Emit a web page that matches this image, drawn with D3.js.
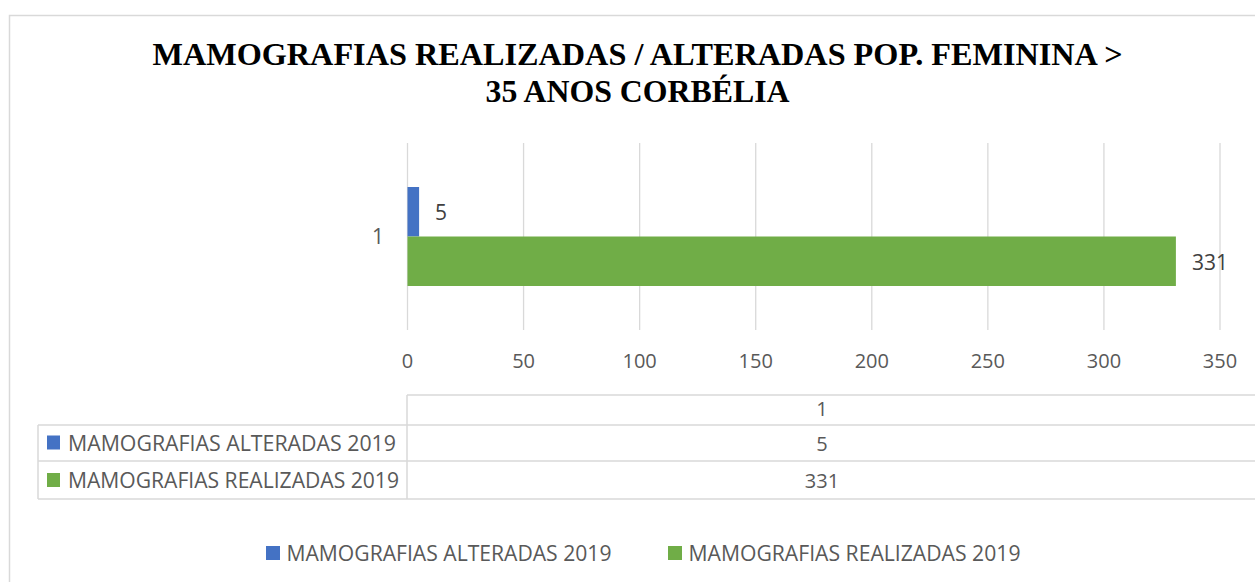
<!DOCTYPE html>
<html>
<head>
<meta charset="utf-8">
<script src="https://cdn.jsdelivr.net/npm/d3@7"></script>
<style>
  body { margin: 0; background: #fff; }
  text { font-family: "Open Sans", sans-serif; fill: #595959; }
  .title { font-family: "Liberation Serif", serif; font-weight: bold; fill: #000; }
</style>
</head>
<body>
<svg id="chart"></svg>
<script>
const width = 1255;
const height = 582;

// data
const categories = ["1"];
const seriesNames = ["MAMOGRAFIAS ALTERADAS 2019", "MAMOGRAFIAS REALIZADAS 2019"];
const seriesColors = ["#4472c4", "#70ad47"];
const alteradas = [5];
const realizadas = [331];
const xTicks = [0, 50, 100, 150, 200, 250, 300, 350];
const seriesValues = [alteradas, realizadas];

const svg = d3.select("#chart").attr("width", width).attr("height", height);

// outer frame
svg.append("rect")
    .attr("x", 9.5).attr("y", 15.5)
    .attr("width", 1300).attr("height", 600)
    .attr("fill", "none")
    .style("stroke", "#d9d9d9")
    .style("stroke-width", 1.5);

// title
svg.append("text").attr("class", "title")
    .attr("x", 637.5).attr("y", 65).attr("text-anchor", "middle")
    .style("font-size", "32px")
    .attr("textLength", 970).attr("lengthAdjust", "spacingAndGlyphs")
    .text("MAMOGRAFIAS REALIZADAS / ALTERADAS POP. FEMININA  >");
svg.append("text").attr("class", "title")
    .attr("x", 637.5).attr("y", 102).attr("text-anchor", "middle")
    .style("font-size", "31px")
    .attr("textLength", 304).attr("lengthAdjust", "spacingAndGlyphs")
    .text("35 ANOS CORBÉLIA");

const x = d3.scaleLinear().domain([0, 350]).range([407.5, 1220]);
const y = d3.scaleBand().domain(categories).range([143, 330]);
const ySub = d3.scaleBand().domain(seriesNames).range([0, 99]);
const yOff = (y.bandwidth() - 99) / 2;

// gridlines
svg.append("g")
    .selectAll("line")
    .data(xTicks)
    .join("line")
    .attr("x1", d => x(d)).attr("x2", d => x(d))
    .attr("y1", 143).attr("y2", 330)
    .style("stroke", "#d9d9d9")
    .style("stroke-width", 1.3);

// tick labels
svg.append("g")
    .selectAll("text")
    .data(xTicks)
    .join("text")
    .attr("x", d => x(d)).attr("y", 368)
    .attr("text-anchor", "middle")
    .style("font-size", "20px")
    .text(d => d);

// category label
svg.append("g")
    .selectAll("text")
    .data(categories)
    .join("text")
    .attr("x", 384).attr("y", d => y(d) + yOff + 49.5 + 7)
    .attr("text-anchor", "end")
    .style("font-size", "21px")
    .text(d => d);

// bars
seriesNames.forEach(function (name, i) {
    const g = svg.append("g");
    g.selectAll("rect")
        .data(seriesValues[i])
        .join("rect")
        .attr("x", x(0))
        .attr("y", (d, j) => y(categories[j]) + yOff + ySub(name))
        .attr("width", d => x(d) - x(0))
        .attr("height", ySub.bandwidth())
        .attr("fill", seriesColors[i]);
    g.selectAll("text")
        .data(seriesValues[i])
        .join("text")
        .attr("x", d => x(d) + 16)
        .attr("y", (d, j) => y(categories[j]) + yOff + ySub(name) + ySub.bandwidth() / 2 + 8.5)
        .style("font-size", "21px")
        .style("fill", "#404040")
        .text(d => d);
});

// data table
const tbl = svg.append("g");
const rowY = [395, 425, 461, 499];
const colX = [38, 407, 1300];
const lineStyle = "#d9d9d9";
tbl.append("line").attr("x1", colX[1]).attr("x2", colX[2]).attr("y1", rowY[0]).attr("y2", rowY[0]).style("stroke", lineStyle).style("stroke-width", 1.5);
[1, 2, 3].forEach(r => {
    tbl.append("line").attr("x1", colX[0]).attr("x2", colX[2]).attr("y1", rowY[r]).attr("y2", rowY[r]).style("stroke", lineStyle).style("stroke-width", 1.5);
});
tbl.append("line").attr("x1", colX[1]).attr("x2", colX[1]).attr("y1", rowY[0]).attr("y2", rowY[3]).style("stroke", lineStyle).style("stroke-width", 1.5);
tbl.append("line").attr("x1", colX[0]).attr("x2", colX[0]).attr("y1", rowY[1]).attr("y2", rowY[3]).style("stroke", lineStyle).style("stroke-width", 1.5);

const cellX = 822;
tbl.append("text").attr("x", cellX).attr("y", 416).attr("text-anchor", "middle")
    .style("font-size", "20px").text(categories[0]);
const rowBase = [450.5, 488];
seriesNames.forEach(function (name, i) {
    tbl.append("rect").attr("x", 47).attr("y", rowBase[i] - 15).attr("width", 13).attr("height", 14).attr("fill", seriesColors[i]);
    tbl.append("text").attr("x", 68).attr("y", rowBase[i])
        .style("font-size", "21px")
        .attr("textLength", i === 0 ? 328 : 331).attr("lengthAdjust", "spacingAndGlyphs")
        .text(name);
    tbl.append("text").attr("x", cellX).attr("y", rowBase[i]).attr("text-anchor", "middle")
        .style("font-size", "20px").text(seriesValues[i][0]);
});

// legend
const legendX = [266, 668];
const legend = svg.append("g")
    .selectAll("g")
    .data(seriesNames)
    .join("g")
    .attr("transform", (d, i) => `translate(${legendX[i]},561)`);
legend.append("rect").attr("x", 0).attr("y", -15).attr("width", 14).attr("height", 14)
    .attr("fill", (d, i) => seriesColors[i]);
legend.append("text").attr("x", 20.5).attr("y", 0)
    .style("font-size", "21px")
    .attr("textLength", (d, i) => i === 0 ? 325 : 332).attr("lengthAdjust", "spacingAndGlyphs")
    .text(d => d);
</script>
</body>
</html>
